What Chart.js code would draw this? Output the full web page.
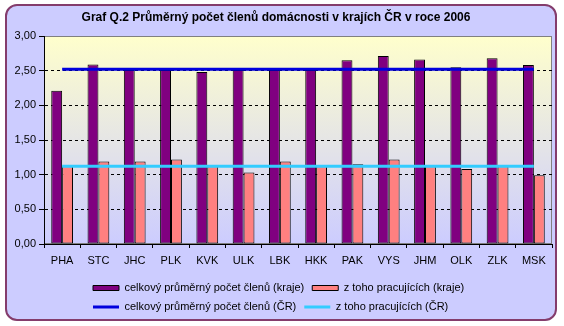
<!DOCTYPE html>
<html>
<head>
<meta charset="utf-8">
<script src="https://cdn.jsdelivr.net/npm/chart.js@4.4.1/dist/chart.umd.min.js"></script>
<style>
body { margin: 0; background: #fff; }
#wrap { position: relative; width: 564px; height: 326px; }
#frame { position: absolute; left: 5px; top: 4px; width: 548px; height: 313px; border: 2px solid #843c6c; border-radius: 12px; background: #ccccff; }
canvas { position: absolute; left: 0; top: 0; }
</style>
</head>
<body>
<div id="wrap">
  <div id="frame"></div>
  <canvas id="householdChart" width="564" height="326"></canvas>
</div>
<script>
// regions of the Czech Republic
var regions = ["PHA", "STC", "JHC", "PLK", "KVK", "ULK", "LBK", "HKK", "PAK", "VYS", "JHM", "OLK", "ZLK", "MSK"];

// average household members per region
var membersRegion = [2.21, 2.59, 2.51, 2.51, 2.48, 2.51, 2.51, 2.51, 2.65, 2.71, 2.66, 2.55, 2.68, 2.58];
// of which working, per region
var workingRegion = [1.12, 1.19, 1.19, 1.22, 1.12, 1.03, 1.19, 1.12, 1.15, 1.22, 1.12, 1.08, 1.12, 0.99];

// values for the whole country
var membersCR = [2.52, 2.52, 2.52, 2.52, 2.52, 2.52, 2.52, 2.52, 2.52, 2.52, 2.52, 2.52, 2.52, 2.52];
var workingCR = [1.12, 1.12, 1.12, 1.12, 1.12, 1.12, 1.12, 1.12, 1.12, 1.12, 1.12, 1.12, 1.12, 1.12];

Chart.defaults.font.family = "'Liberation Sans', Arial, sans-serif";
Chart.defaults.font.size = 11;
Chart.defaults.color = '#000';

// gradient behind the bars and grey frame of the plot
var plotBackground = {
    id : 'plotBackground',
    afterLayout : function(chart) {
	// legend columns start under the y axis, as in the original
	chart.legend.left = 85;
    },
    beforeDraw : function(chart) {
	var a = chart.chartArea, ctx = chart.ctx;
	var g = ctx.createLinearGradient(0, a.top, 0, a.bottom);
	g.addColorStop(0, '#ffffcc');
	g.addColorStop(1, '#ccccff');
	ctx.save();
	ctx.fillStyle = g;
	ctx.fillRect(a.left, a.top, a.right - a.left, a.bottom - a.top);
	ctx.strokeStyle = '#808080';
	ctx.lineWidth = 1;
	ctx.strokeRect(a.left + 0.5, a.top + 0.5, a.right - a.left - 1, a.bottom - a.top - 1);
	ctx.restore();
    }
};

var ctx = document.getElementById("householdChart");
var chart = new Chart(ctx, {
    type : 'bar',
    data : {
	labels : regions,
	datasets : [ {
	    label : "celkový průměrný počet členů (kraje)",
	    data : membersRegion,
	    backgroundColor : '#800080',
	    borderColor : '#000',
	    borderWidth : 1,
	    borderSkipped : false,
	    categoryPercentage : 0.6,
	    barPercentage : 1,
	    order : 2
	}, {
	    label : "z toho pracujících (kraje)",
	    data : workingRegion,
	    backgroundColor : '#ff8080',
	    borderColor : '#000',
	    borderWidth : 1,
	    borderSkipped : false,
	    categoryPercentage : 0.6,
	    barPercentage : 1,
	    order : 2
	}, {
	    type : 'line',
	    label : "celkový průměrný počet členů (ČR)",
	    data : membersCR,
	    borderColor : '#0000dd',
	    borderWidth : 3,
	    pointRadius : 0,
	    fill : false,
	    order : 1
	}, {
	    type : 'line',
	    label : "z toho pracujících (ČR)",
	    data : workingCR,
	    borderColor : '#33ccff',
	    borderWidth : 3,
	    pointRadius : 0,
	    fill : false,
	    order : 1
	} ]
    },
    options : {
	responsive : false,
	animation : false,
	layout : {
	    padding : { left : 0, right : 12, top : 0, bottom : 3.5 }
	},
	plugins : {
	    title : {
		display : true,
		text : "Graf Q.2 Průměrný počet členů domácnosti v krajích ČR v roce 2006",
		color : '#000',
		font : { size : 12, weight : 'bold' },
		padding : { top : 10, bottom : 11.6 }
	    },
	    legend : {
		position : 'bottom',
		align : 'start',
		labels : {
		    usePointStyle : true,
		    pointStyleWidth : 26,
		    boxHeight : 5,
		    padding : 8,
		    color : '#000',
		    sort : function(a, b) {
			return a.datasetIndex - b.datasetIndex;
		    },
		    generateLabels : function(chart) {
			return chart.data.datasets.map(function(ds, i) {
			    var isLine = ds.type === 'line';
			    return {
				text : ds.label,
				datasetIndex : i,
				fillStyle : isLine ? ds.borderColor : ds.backgroundColor,
				strokeStyle : isLine ? ds.borderColor : '#000',
				lineWidth : isLine ? 3 : 1,
				pointStyle : isLine ? 'line' : 'rect',
				fontColor : '#000',
				hidden : false
			    };
			});
		    }
		}
	    },
	    tooltip : { enabled : false }
	},
	scales : {
	    x : {
		grid : { offset : true, drawOnChartArea : false, tickLength : 4, color : '#000' },
		border : { color : '#000' },
		ticks : { padding : 6, color : '#000', autoSkip : false, maxRotation : 0 },
		afterFit : function(s) {
		    s.height = 30.5;
		}
	    },
	    y : {
		min : 0,
		max : 3,
		ticks : {
		    stepSize : 0.5,
		    padding : 3,
		    color : '#000',
		    callback : function(v) {
			return v.toFixed(2).replace('.', ',');
		    }
		},
		grid : {
		    color : function(c) {
			var v = c.tick ? c.tick.value : 0;
			return (v === 0 || v === 3) ? 'rgba(0,0,0,0)' : '#000';
		    },
		    tickColor : '#000',
		    tickLength : 5
		},
		border : { color : '#000', dash : [ 3, 3 ] },
		afterFit : function(s) {
		    s.width = 44;
		}
	    }
	}
    },
    plugins : [ plotBackground ]
});
</script>
</body>
</html>
